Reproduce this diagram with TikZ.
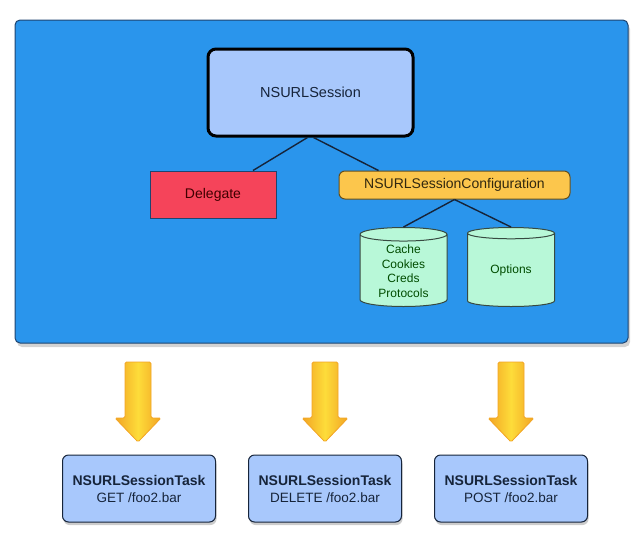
\documentclass[tikz,border=0pt]{standalone}
\usepackage{fontspec}
\setmainfont{Liberation Sans}
\usetikzlibrary{shapes.geometric,shadows}
\definecolor{panelblue}{HTML}{2A95EC}
\definecolor{panelline}{HTML}{1E4470}
\definecolor{sessionfill}{HTML}{A8C8FC}
\definecolor{delegatefill}{HTML}{F5445A}
\definecolor{configfill}{HTML}{FCC64C}
\definecolor{storefill}{HTML}{B8F8D8}
\definecolor{arrowfill}{HTML}{FDDC3A}
\definecolor{arrowedge}{HTML}{F2A424}
\definecolor{inktext}{HTML}{16243A}
\newcommand{\tasktitle}{{\fontsize{14}{17}\selectfont\bfseries NSURLSessionTask}}
\tikzset{
	panel/.style={draw=panelline, line width=1pt, rounded corners=5pt, fill=panelblue, minimum width=613pt, minimum height=323pt, drop shadow={shadow xshift=2pt, shadow yshift=-4pt, opacity=.35}},
	session/.style={draw=black, line width=3pt, rounded corners=8pt, fill=sessionfill, minimum width=205pt, minimum height=87pt, font=\fontsize{14.5}{17}\selectfont, text=inktext},
	delegate/.style={draw=panelline, line width=1pt, fill=delegatefill, minimum width=126pt, minimum height=47pt, font=\fontsize{14}{17}\selectfont, text=black!75!red},
	config/.style={draw=black!60!configfill, line width=1pt, rounded corners=6pt, fill=configfill, minimum width=231pt, minimum height=28pt, font=\fontsize{14}{17}\selectfont, text=black!80!configfill},
	store/.style={draw=black!70!storefill, line width=1pt, fill=storefill, cylinder, shape border rotate=90, aspect=0.26, inner sep=1pt, minimum width=87pt, minimum height=79pt, anchor=north, align=center, font=\fontsize{12}{14.7}\selectfont, text=black!70!green},
	task/.style={draw=inktext, line width=1pt, rounded corners=6pt, fill=sessionfill, minimum width=153pt, minimum height=67pt, align=center, font=\fontsize{13.5}{17}\selectfont, text=inktext, drop shadow={shadow xshift=1pt, shadow yshift=-3pt, opacity=.4}},
	link/.style={draw=inktext, line width=1.4pt},
	blockarrow/.style={draw=arrowedge, line width=0.8pt, rounded corners=1.5pt, left color=arrowedge, right color=arrowedge, middle color=arrowfill},
}
\begin{document}
\begin{tikzpicture}[x=1pt,y=-1pt]
	\useasboundingbox (0,0) rectangle (638,542);
	\node[panel] (panel) at (321.5,181.5) {};
	\node[session] (session) at (310.5,92.5) {NSURLSession};
	\node[delegate] (delegate) at (213,194.5) {Delegate};
	\node[config] (config) at (454.5,185) {NSURLSessionConfiguration};
	\node[store] (cache) at (403.5,227) {Cache\\Cookies\\Creds\\Protocols};
	\node[store] (options) at (511,227) {Options};
	\draw[link] ([xshift=-3pt]session.south) -- ([xshift=40pt]delegate.north);
	\draw[link] ([xshift=3pt]session.south) -- ([xshift=-76pt]config.north);
	\draw[link] (config.south) -- (cache.north);
	\draw[link] (config.south) -- (options.north);
	% the three tasks
	\node[task] (get) at (139,488.5) {\tasktitle\\GET /foo2.bar};
	\node[task] (delete) at (325,488.5) {\tasktitle\\DELETE /foo2.bar};
	\node[task] (post) at (511,488.5) {\tasktitle\\POST /foo2.bar};
	\foreach \ax in {138,325,511}
		\path[blockarrow] (\ax-13,362) -- (\ax+13,362) -- (\ax+13,418) -- (\ax+23,418) -- (\ax,442) -- (\ax-23,418) -- (\ax-13,418) -- cycle;
\end{tikzpicture}
\end{document}
